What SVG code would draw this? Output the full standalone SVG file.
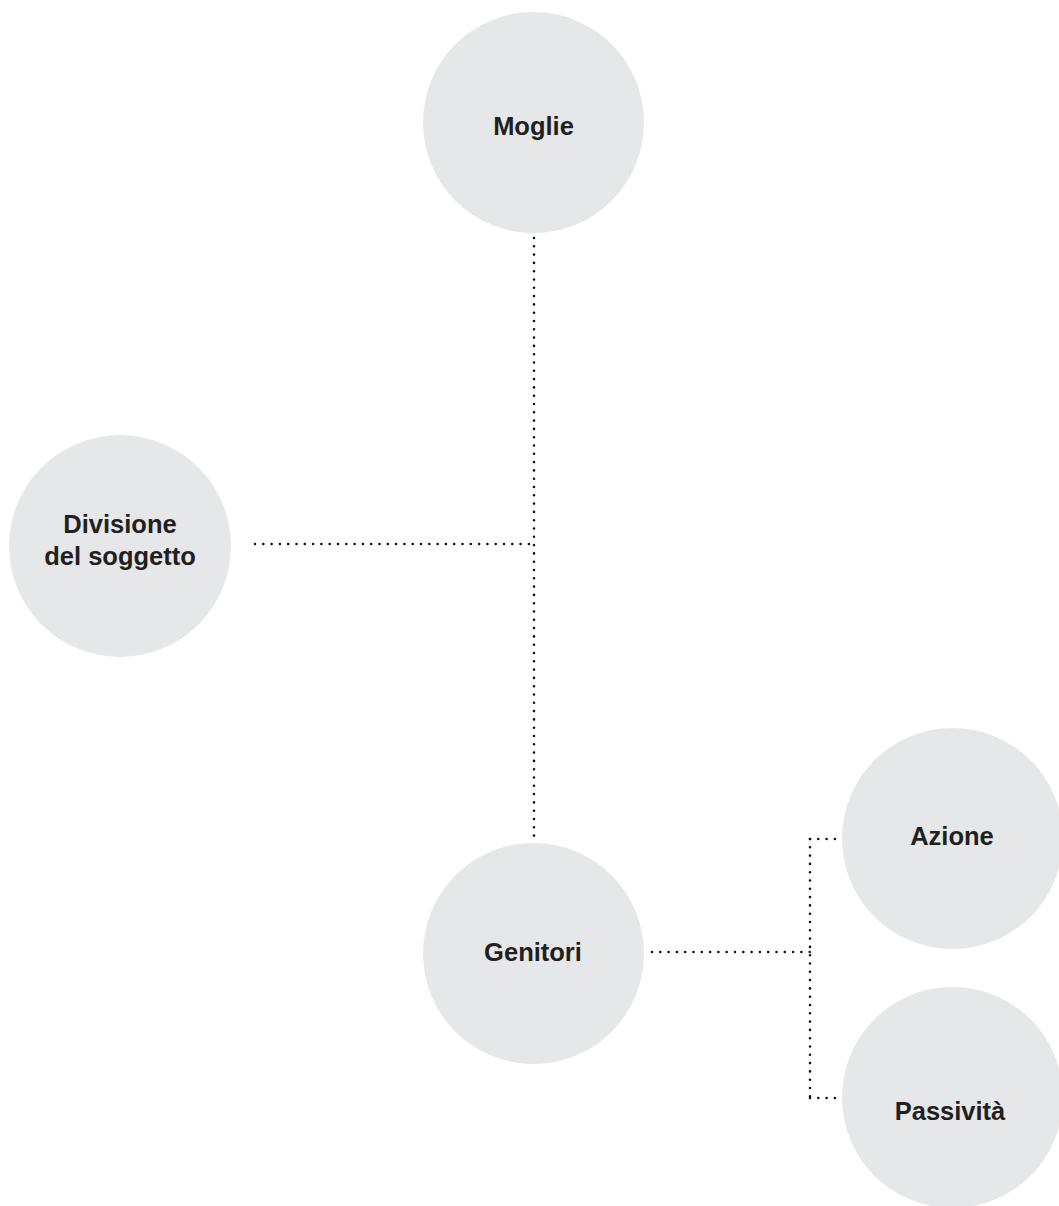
<svg xmlns="http://www.w3.org/2000/svg" width="1059" height="1206" viewBox="0 0 1059 1206">
<style>
.node{fill:#e6e7e8}
.lbl{font-family:"Liberation Sans",Arial,sans-serif;font-weight:bold;font-size:25.5px;fill:#231f20;text-anchor:middle}
.dot{fill:none;stroke:#111111;stroke-width:2.6;stroke-linecap:round;stroke-dasharray:0 8.3}
</style>
<rect width="1059" height="1206" fill="#ffffff"/>
<g id="connectors">
<path class="dot" d="M534 238 V840"/>
<path class="dot" d="M255 544 H534"/>
<path class="dot" d="M652 952 H810"/>
<path class="dot" d="M810 839 V1098"/>
<path class="dot" d="M810 839 H837"/>
<path class="dot" d="M810 1098 H837"/>
</g>
<g id="moglie">
<circle class="node" cx="533.5" cy="122.5" r="110.5"/>
<text class="lbl" x="533.5" y="135">Moglie</text>
</g>
<g id="divisione">
<circle class="node" cx="120" cy="546" r="111"/>
<text class="lbl" x="120" y="533">Divisione</text>
<text class="lbl" x="120" y="565">del soggetto</text>
</g>
<g id="genitori">
<circle class="node" cx="533.5" cy="953.5" r="110.5"/>
<text class="lbl" x="533" y="961">Genitori</text>
</g>
<g id="azione">
<circle class="node" cx="952.5" cy="838.5" r="110.5"/>
<text class="lbl" x="952" y="845">Azione</text>
</g>
<g id="passivita">
<circle class="node" cx="952.5" cy="1097.5" r="110.5"/>
<text class="lbl" x="950" y="1120">Passività</text>
</g>
</svg>
